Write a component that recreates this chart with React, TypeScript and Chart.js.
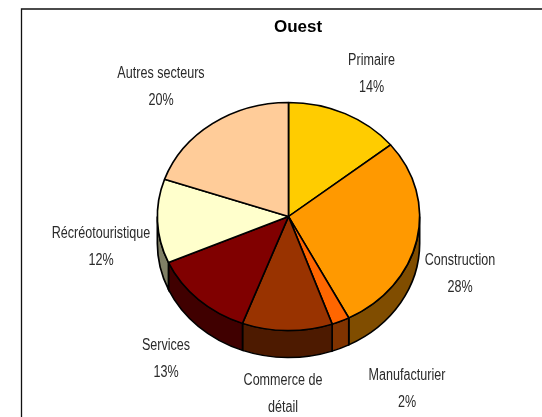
import React, { useEffect, useRef } from "react";
import { Chart, registerables } from "chart.js";

Chart.register(...registerables);

const titleText = "Ouest";
const categories = ["Primaire", "Construction", "Manufacturier", "Commerce de détail", "Services", "Récréotouristique", "Autres secteurs"];
const shares = [14.2, 28.2, 2.2, 11.1, 12.7, 11.9, 19.7];
const labelLines = [
  ["Primaire", "14%"],
  ["Construction", "28%"],
  ["Manufacturier", "2%"],
  ["Commerce de", "détail", "11%"],
  ["Services", "13%"],
  ["Récréotouristique", "12%"],
  ["Autres secteurs", "20%"],
];
const topColors = ["#FFCC00", "#FF9900", "#FF6600", "#993300", "#800000", "#FFFFCC", "#FFCC99"];
const sideColors = ["#806600", "#804D00", "#803300", "#4D1A00", "#400000", "#808066", "#80664D"];
const labelAnchors = [
  [371.5, 61], [460, 261], [407, 376], [283, 381], [166, 346], [101, 234], [161, 74],
];

const squash = 0.87;
const depth = 27;
const narrow = 0.785;

const piePlugin = {
  id: "pie3d",
  beforeDraw(chart: any) {
    const ctx = chart.ctx;
    ctx.save();
    ctx.strokeStyle = "#111";
    ctx.lineWidth = 1.3;
    ctx.beginPath();
    ctx.moveTo(21.5, 417);
    ctx.lineTo(21.5, 9);
    ctx.lineTo(542, 9);
    ctx.stroke();
    ctx.fillStyle = "#000";
    ctx.textAlign = "center";
    ctx.textBaseline = "middle";
    ctx.font = "bold 17px 'Liberation Sans'";
    ctx.fillText(titleText, 298, 27);
    ctx.font = "16px 'Liberation Sans'";
    ctx.fillStyle = "#2a2a2a";
    labelLines.forEach((lines, i) => {
      lines.forEach((t, j) => {
        ctx.save();
        ctx.translate(labelAnchors[i][0], labelAnchors[i][1] + j * 27);
        ctx.scale(narrow, 1);
        ctx.fillText(t, 0, 0);
        ctx.restore();
      });
    });
    ctx.restore();
  },
  beforeDatasetsDraw(chart: any) {
    const ctx = chart.ctx;
    const arcs = chart.getDatasetMeta(0).data;
    const cy = arcs[0].y;
    ctx.save();
    ctx.translate(0, cy);
    ctx.scale(1, squash);
    ctx.translate(0, -cy);
    arcs.forEach((a: any, i: number) => {
      const a0 = Math.max(a.startAngle, 0);
      const a1 = Math.min(a.endAngle, Math.PI);
      if (a1 <= a0) return;
      ctx.beginPath();
      ctx.arc(a.x, a.y, a.outerRadius, a0, a1);
      ctx.arc(a.x, a.y + depth / squash, a.outerRadius, a1, a0, true);
      ctx.closePath();
      ctx.fillStyle = sideColors[i];
      ctx.fill();
      ctx.strokeStyle = "#000";
      ctx.lineWidth = 1.7;
      ctx.stroke();
    });
  },
  afterDatasetsDraw(chart: any) {
    chart.ctx.restore();
  },
};

export default function App() {
  const ref = useRef<HTMLCanvasElement>(null);
  useEffect(() => {
    const chart = new Chart(ref.current!, {
      type: "pie",
      data: {
        labels: categories,
        datasets: [{
          data: shares,
          backgroundColor: topColors,
          borderColor: "#000",
          borderWidth: 1.7,
        }],
      },
      options: {
        responsive: false,
        animation: false,
        layout: { padding: { left: 156.5, right: 121.5, top: 84.5, bottom: 68.5 } },
        plugins: { legend: { display: false }, tooltip: { enabled: false }, title: { display: false } },
      },
      plugins: [piePlugin],
    } as any);
    return () => chart.destroy();
  }, []);
  return (
    <canvas
      ref={ref}
      width={542}
      height={417}
      style={{ position: "fixed", left: 0, top: 0, width: 542, height: 417 }}
    />
  );
}
